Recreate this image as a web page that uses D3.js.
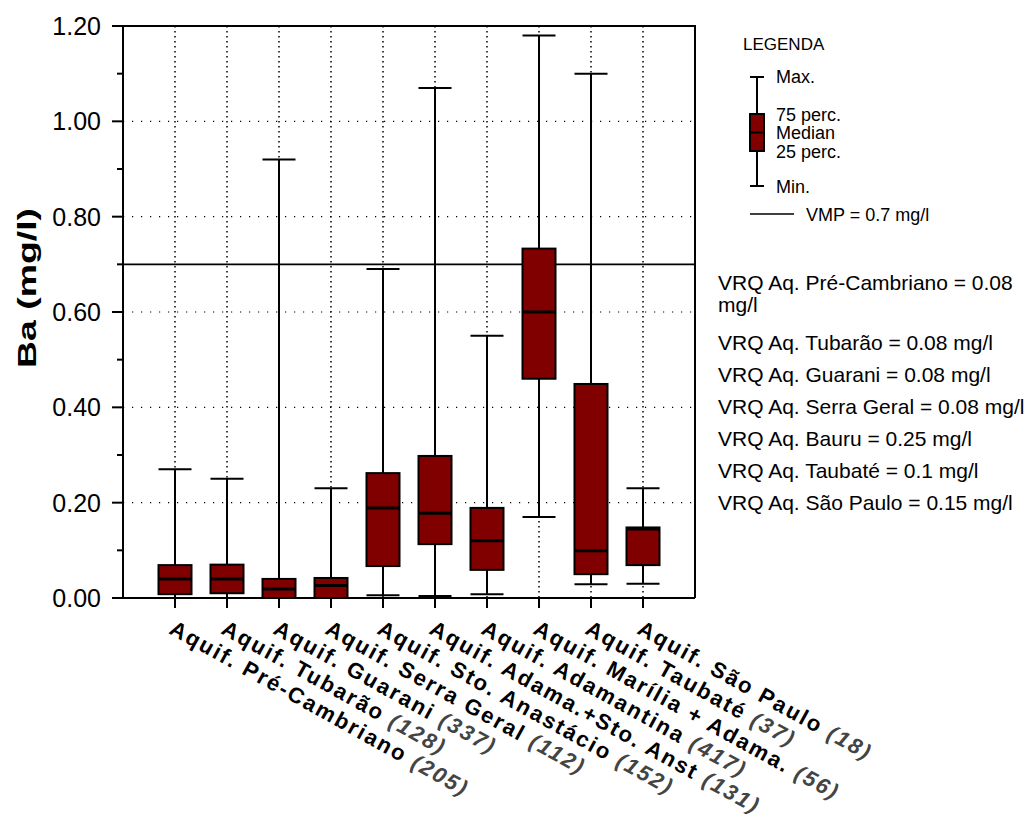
<!DOCTYPE html>
<html>
<head>
<meta charset="utf-8">
<script src="https://cdn.jsdelivr.net/npm/d3@7"></script>
<style>
  body { margin: 0; background: #fff; }
  text { font-family: "Liberation Sans", Arial, sans-serif; }
</style>
</head>
<body>
<div id="chart"></div>
<script>
var width = 1031;
var height = 823;

// aquifers and their sample counts
var aquifers = ["Aquif. Pré-Cambriano", "Aquif. Tubarão", "Aquif. Guarani", "Aquif. Serra Geral",
    "Aquif. Sto. Anastácio", "Aquif. Adama.+Sto. Anst", "Aquif. Adamantina",
    "Aquif. Marília + Adama.", "Aquif. Taubaté", "Aquif. São Paulo"];
var counts = [205, 128, 337, 112, 152, 131, 417, 56, 37, 18];

// box statistics (mg/l)
var minVals = [0.000, 0.000, 0.000, 0.000, 0.006, 0.004, 0.008, 0.170, 0.029, 0.030];
var q1Vals = [0.008, 0.010, 0.000, 0.000, 0.067, 0.113, 0.059, 0.460, 0.050, 0.069];
var medVals = [0.040, 0.040, 0.019, 0.026, 0.189, 0.178, 0.120, 0.600, 0.099, 0.145];
var q3Vals = [0.069, 0.070, 0.040, 0.042, 0.262, 0.298, 0.189, 0.733, 0.449, 0.148];
var maxVals = [0.270, 0.250, 0.920, 0.230, 0.690, 1.070, 0.550, 1.180, 1.100, 0.230];

var yTicks = [0, 0.2, 0.4, 0.6, 0.8, 1.0, 1.2];
var yMinor = [0.1, 0.3, 0.5, 0.7, 0.9, 1.1];
var vmp = 0.7;

var vrqLines = ["VRQ Aq. Pré-Cambriano = 0.08 mg/l", "VRQ Aq. Tubarão = 0.08 mg/l",
    "VRQ Aq. Guarani = 0.08 mg/l", "VRQ Aq. Serra Geral = 0.08 mg/l",
    "VRQ Aq. Bauru = 0.25 mg/l", "VRQ Aq. Taubaté = 0.1 mg/l", "VRQ Aq. São Paulo = 0.15 mg/l"];

var legendItems = ["Max.", "75 perc.", "Median", "25 perc.", "Min."];

var boxColor = "#800000";

var svg = d3.select("#chart").append("svg")
    .attr("width", width)
    .attr("height", height);

var pLeft = 123, pRight = 695, pTop = 26, pBottom = 598;

var x = d3.scalePoint()
    .domain(aquifers)
    .range([pLeft, pRight])
    .padding(1);

var y = d3.scaleLinear()
    .domain([0, 1.2])
    .range([pBottom, pTop]);

var boxW = 33;

// grid lines
svg.append("g")
    .selectAll("line")
    .data(yTicks.slice(1, -1))
    .enter().append("line")
    .attr("x1", pLeft).attr("x2", pRight)
    .attr("y1", function (d) { return y(d); })
    .attr("y2", function (d) { return y(d); })
    .attr("stroke", "#000")
    .attr("stroke-width", 1.2)
    .attr("stroke-dasharray", "1.2,7.8");

svg.append("g")
    .selectAll("line")
    .data(aquifers)
    .enter().append("line")
    .attr("x1", function (d) { return x(d); })
    .attr("x2", function (d) { return x(d); })
    .attr("y1", pTop).attr("y2", pBottom)
    .attr("stroke", "#000")
    .attr("stroke-width", 1.5)
    .attr("stroke-dasharray", "1.5,3.5");

// frame
svg.append("path")
    .attr("d", "M" + pLeft + "," + pTop + "H" + pRight + "V" + pBottom)
    .attr("fill", "none")
    .attr("stroke", "#000")
    .attr("stroke-width", 2);

// VMP line
svg.append("line")
    .attr("x1", pLeft).attr("x2", pRight)
    .attr("y1", y(vmp)).attr("y2", y(vmp))
    .attr("stroke", "#000")
    .attr("stroke-width", 1.8);

// boxes
var boxes = svg.append("g")
    .selectAll("g")
    .data(aquifers)
    .enter().append("g")
    .attr("transform", function (d) { return "translate(" + x(d) + ",0)"; });

boxes.append("line")
    .attr("y1", function (d, i) { return y(maxVals[i]); })
    .attr("y2", function (d, i) { return y(minVals[i]); })
    .attr("stroke", "#000")
    .attr("stroke-width", 2);

boxes.append("line")
    .attr("x1", -boxW / 2).attr("x2", boxW / 2)
    .attr("y1", function (d, i) { return y(maxVals[i]); })
    .attr("y2", function (d, i) { return y(maxVals[i]); })
    .attr("stroke", "#000")
    .attr("stroke-width", 2);

boxes.append("line")
    .attr("x1", -boxW / 2).attr("x2", boxW / 2)
    .attr("y1", function (d, i) { return y(minVals[i]); })
    .attr("y2", function (d, i) { return y(minVals[i]); })
    .attr("stroke", "#000")
    .attr("stroke-width", 2);

boxes.append("rect")
    .attr("x", -boxW / 2)
    .attr("width", boxW)
    .attr("y", function (d, i) { return y(q3Vals[i]); })
    .attr("height", function (d, i) { return y(q1Vals[i]) - y(q3Vals[i]); })
    .attr("fill", boxColor)
    .attr("stroke", "#000")
    .attr("stroke-width", 2);

boxes.append("line")
    .attr("x1", -boxW / 2).attr("x2", boxW / 2)
    .attr("y1", function (d, i) { return y(medVals[i]); })
    .attr("y2", function (d, i) { return y(medVals[i]); })
    .attr("stroke", "#000")
    .attr("stroke-width", 3);

// axes lines
svg.append("line")
    .attr("x1", pLeft).attr("x2", pLeft)
    .attr("y1", pTop).attr("y2", pBottom)
    .attr("stroke", "#000").attr("stroke-width", 2);

svg.append("line")
    .attr("x1", pLeft).attr("x2", pRight)
    .attr("y1", pBottom).attr("y2", pBottom)
    .attr("stroke", "#000").attr("stroke-width", 2);

var yAxis = svg.append("g");
yAxis.selectAll(".major")
    .data(yTicks)
    .enter().append("line")
    .attr("x1", pLeft - 11).attr("x2", pLeft)
    .attr("y1", function (d) { return y(d); })
    .attr("y2", function (d) { return y(d); })
    .attr("stroke", "#000").attr("stroke-width", 2);

yAxis.selectAll(".minor")
    .data(yMinor)
    .enter().append("line")
    .attr("x1", pLeft - 6).attr("x2", pLeft)
    .attr("y1", function (d) { return y(d); })
    .attr("y2", function (d) { return y(d); })
    .attr("stroke", "#000").attr("stroke-width", 2);

yAxis.selectAll("text")
    .data(yTicks)
    .enter().append("text")
    .attr("x", pLeft - 22)
    .attr("y", function (d) { return y(d) + 9; })
    .attr("text-anchor", "end")
    .attr("font-size", 25)
    .text(function (d) { return d.toFixed(2); });

// y title, drawn stretched along its length like the original
svg.append("text")
    .attr("transform", "translate(36,288) rotate(-90)")
    .attr("text-anchor", "middle")
    .attr("font-size", 25)
    .attr("font-weight", "bold")
    .attr("textLength", 160)
    .attr("lengthAdjust", "spacingAndGlyphs")
    .text("Ba (mg/l)");

// x ticks and labels
svg.append("g")
    .selectAll("line")
    .data(aquifers)
    .enter().append("line")
    .attr("x1", function (d) { return x(d); })
    .attr("x2", function (d) { return x(d); })
    .attr("y1", pBottom).attr("y2", pBottom + 10)
    .attr("stroke", "#000").attr("stroke-width", 2);

var xLabels = svg.append("g")
    .selectAll("text")
    .data(aquifers)
    .enter().append("text")
    .attr("transform", function (d) { return "translate(" + (x(d) - 7) + ",633) rotate(29)"; })
    .attr("font-size", 22)
    .attr("font-weight", "bold")
    .attr("letter-spacing", 2.1);

xLabels.append("tspan").text(function (d) { return d + " "; });
xLabels.append("tspan")
    .attr("font-style", "italic")
    .attr("fill", "#444")
    .text(function (d, i) { return "(" + counts[i] + ")"; });

// legend
var lg = svg.append("g");
lg.append("text")
    .attr("x", 743).attr("y", 50)
    .attr("font-size", 17)
    .text("LEGENDA");

var lgY = d3.scaleLinear().domain([0, 1]).range([186, 77]);
var lx = 757;
lg.append("line").attr("x1", lx).attr("x2", lx)
    .attr("y1", lgY(1)).attr("y2", lgY(0))
    .attr("stroke", "#000").attr("stroke-width", 2);
[1, 0].forEach(function (v) {
    lg.append("line").attr("x1", lx - 7).attr("x2", lx + 7)
        .attr("y1", lgY(v)).attr("y2", lgY(v))
        .attr("stroke", "#000").attr("stroke-width", 2);
});
lg.append("rect")
    .attr("x", lx - 7).attr("width", 14)
    .attr("y", 114).attr("height", 37)
    .attr("fill", boxColor)
    .attr("stroke", "#000").attr("stroke-width", 2);
lg.append("line").attr("x1", lx - 7).attr("x2", lx + 7)
    .attr("y1", 132.5).attr("y2", 132.5)
    .attr("stroke", "#000").attr("stroke-width", 2);

var legendYs = [83, 121, 139, 158, 193];
lg.selectAll(".li")
    .data(legendItems)
    .enter().append("text")
    .attr("x", 776)
    .attr("y", function (d, i) { return legendYs[i]; })
    .attr("font-size", 18)
    .text(function (d) { return d; });

lg.append("line")
    .attr("x1", 750).attr("x2", 794)
    .attr("y1", 214).attr("y2", 214)
    .attr("stroke", "#000").attr("stroke-width", 1.5);
lg.append("text")
    .attr("x", 806).attr("y", 221)
    .attr("font-size", 18)
    .text("VMP = " + vmp + " mg/l");

// VRQ notes, wrapped to the page edge
var vy = 290;
vrqLines.forEach(function (s) {
    var t = svg.append("text")
        .attr("x", 718).attr("y", vy)
        .attr("font-size", 21);
    var words = s.split(" ");
    var line = [];
    var wrapped = false;
    var ts = t.append("tspan").attr("x", 718);
    words.forEach(function (w) {
        line.push(w);
        ts.text(line.join(" "));
        if (ts.node().getComputedTextLength() > 312 && line.length > 1) {
            line.pop();
            ts.text(line.join(" "));
            line = [w];
            vy += 22;
            wrapped = true;
            ts = t.append("tspan").attr("x", 718).attr("y", vy).text(w);
        }
    });
    vy += wrapped ? 38 : 32;
});
</script>
</body>
</html>
